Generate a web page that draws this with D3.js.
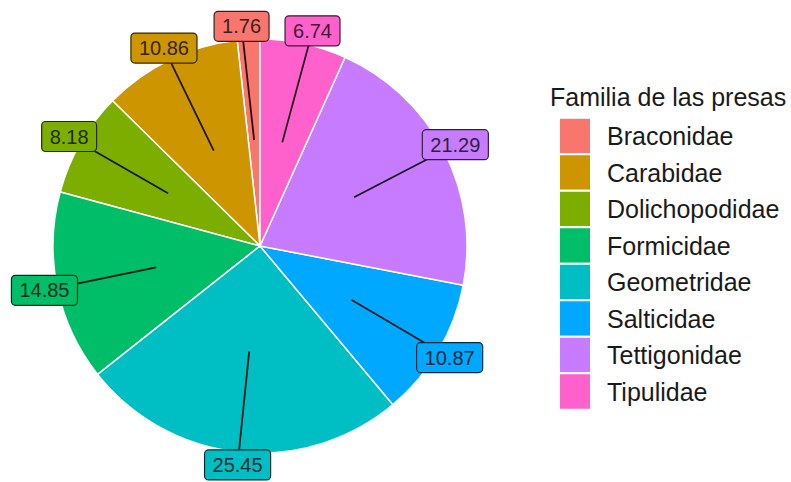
<!DOCTYPE html>
<html>
<head>
<meta charset="utf-8">
<script src="https://cdnjs.cloudflare.com/ajax/libs/d3/7.8.5/d3.min.js"></script>
<style>
  body { margin: 0; background: #fff; }
  svg { font-family: "Liberation Sans", Arial, Helvetica, sans-serif; }
</style>
</head>
<body>
<div id="chart"></div>
<script>
// data (percent of prey per family)
const families = ["Braconidae", "Carabidae", "Dolichopodidae", "Formicidae",
                  "Geometridae", "Salticidae", "Tettigonidae", "Tipulidae"];
const percents = [1.76, 10.86, 8.18, 14.85, 25.45, 10.87, 21.29, 6.74];
const palette = ["#F8766D", "#CD9600", "#7CAE00", "#00BE67",
                 "#00BFC4", "#00A9FF", "#C77CFF", "#FF61CC"];
const legendTitle = "Familia de las presas";

const width = 791, height = 482;
const cx = 260, cy = 246, radius = 207;

const data = families.map((f, i) => ({ family: f, value: percents[i] }));

const color = d3.scaleOrdinal().domain(families).range(palette);

const svg = d3.select("#chart").append("svg")
    .attr("width", width)
    .attr("height", height);

// ggplot polar bar: first level ends at 12 o'clock, going counter-clockwise
const pie = d3.pie()
    .sort(null)
    .value(d => d.value)
    .startAngle(2 * Math.PI)
    .endAngle(0);

const arcs = pie(data);

const arc = d3.arc().innerRadius(0).outerRadius(radius);

const g = svg.append("g").attr("transform", `translate(${cx},${cy})`);

g.selectAll("path.slice")
    .data(arcs)
    .join("path")
    .attr("class", "slice")
    .attr("d", arc)
    .attr("fill", d => color(d.data.family))
    .attr("stroke", "#fff")
    .attr("stroke-width", 1.5);

// label boxes
const fontSize = 20, padX = 8, boxH = 30;
const polar = (a, r) => [r * Math.sin(a), -r * Math.cos(a)];

const measure = svg.append("text").attr("font-size", fontSize);
const labels = arcs.map(d => {
    const mid = (d.startAngle + d.endAngle) / 2;
    const txt = d.data.value.toFixed(2);
    measure.text(txt);
    const w = measure.node().getComputedTextLength() + 2 * padX;
    const [sx, sy] = polar(mid, radius * 0.512);
    const [lx, ly] = polar(mid, radius * 1.063);
    return { d, txt, w, sx, sy, x: lx, y: ly };
});
measure.remove();

// small repel so neighbouring boxes don't touch
const pad = 8;
for (let it = 0; it < 50; it++) {
    for (let i = 0; i < labels.length; i++) {
        for (let j = i + 1; j < labels.length; j++) {
            const a = labels[i], b = labels[j];
            const ox = (a.w + b.w) / 2 + pad * 2 - Math.abs(a.x - b.x);
            const oy = boxH + pad * 2 - Math.abs(a.y - b.y);
            if (ox > 0 && oy > 0) {
                if (ox < oy) {
                    const s = a.x < b.x ? -1 : 1;
                    a.x += s * ox / 4; b.x -= s * ox / 4;
                } else {
                    const s = a.y < b.y ? -1 : 1;
                    a.y += s * oy / 4; b.y -= s * oy / 4;
                }
            }
        }
    }
}

const dark = (c, k) => d3.interpolateRgb(c, "#000")(k);

g.selectAll("line.seg")
    .data(labels)
    .join("line")
    .attr("class", "seg")
    .attr("x1", d => d.sx).attr("y1", d => d.sy)
    .attr("x2", d => d.x).attr("y2", d => d.y)
    .attr("stroke", d => dark(color(d.d.data.family), 0.85))
    .attr("stroke-width", 1.8);

const lab = g.selectAll("g.lab")
    .data(labels)
    .join("g")
    .attr("class", "lab")
    .attr("transform", d => `translate(${d.x},${d.y})`);

lab.append("rect")
    .attr("x", d => -d.w / 2)
    .attr("y", -boxH / 2)
    .attr("width", d => d.w)
    .attr("height", boxH)
    .attr("rx", 4)
    .attr("fill", d => color(d.d.data.family))
    .attr("stroke", d => dark(color(d.d.data.family), 0.75))
    .attr("stroke-width", 1.2);

lab.append("text")
    .attr("text-anchor", "middle")
    .attr("dy", "0.36em")
    .attr("font-size", fontSize)
    .attr("fill", d => dark(color(d.d.data.family), 0.75))
    .text(d => d.txt);

// legend
const legend = svg.append("g").attr("transform", "translate(550,0)");

legend.append("text")
    .attr("x", 0)
    .attr("y", 106)
    .attr("font-size", 25)
    .attr("fill", "#1a1a1a")
    .text(legendTitle);

const rowH = 36.5, firstY = 136;
const row = legend.selectAll("g.row")
    .data(families)
    .join("g")
    .attr("class", "row")
    .attr("transform", (d, i) => `translate(0,${firstY + i * rowH})`);

row.append("rect")
    .attr("x", 9)
    .attr("y", -rowH / 2)
    .attr("width", 32)
    .attr("height", rowH)
    .attr("fill", d => color(d))
    .attr("stroke", "#fff")
    .attr("stroke-width", 2);

row.append("text")
    .attr("x", 57)
    .attr("dy", "0.36em")
    .attr("font-size", 25)
    .attr("fill", "#1a1a1a")
    .text(d => d);
</script>
</body>
</html>
